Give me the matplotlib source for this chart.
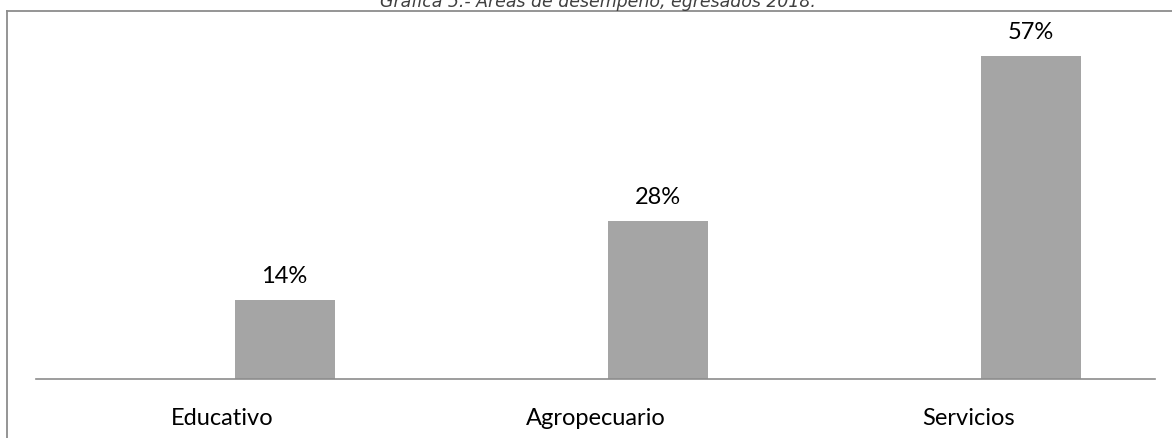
import matplotlib
matplotlib.use("Agg")
import matplotlib.pyplot as plt
from matplotlib.lines import Line2D

categories = ["Educativo", "Agropecuario", "Servicios"]
values = [14, 28, 57]
labels = ["14%", "28%", "57%"]
title = "Gráfica 5.- Áreas de desempeño, egresados 2018."

W, H = 1172, 439
fig = plt.figure(figsize=(W / 100, H / 100), dpi=100)
fig.patch.set_facecolor("white")

ax = fig.add_axes([36 / W, (H - 380) / H, (1155 - 36) / W, (380 - 12) / H])
x = list(range(len(categories)))
bar_shift = 62 / 373  # bars sit right of the category centre (empty second series)
xb = [xi + bar_shift for xi in x]
ax.bar(xb, values, width=100 / 373, color="#A5A5A5", zorder=2)
ax.set_xlim(-0.5, len(categories) - 0.5)
ax.set_ylim(0, (380 - 12) / 5.66)

for xi, v, lab in zip(xb, values, labels):
    ax.annotate(lab, (xi, v), xytext=(0, 10), textcoords="offset points",
                ha="center", va="bottom", fontsize=17, family="Lato", color="#000000")

ax.set_xticks(x)
ax.set_xticklabels(categories, fontsize=17, family="Lato")
ax.tick_params(axis="x", length=0, pad=20)
ax.set_yticks([])
for s in ["top", "right", "left"]:
    ax.spines[s].set_visible(False)
ax.spines["bottom"].set_color("#8C8C8C")
ax.spines["bottom"].set_linewidth(1.2)
ax.patch.set_alpha(0)

# outer frame (left and top visible)
fig.add_artist(Line2D([6.5 / W, 6.5 / W], [0, (H - 11.5) / H], color="#8C8C8C", lw=1.3,
                      transform=fig.transFigure))
fig.add_artist(Line2D([6.5 / W, 1], [(H - 11.5) / H, (H - 11.5) / H], color="#8C8C8C", lw=1.3,
                      transform=fig.transFigure))

fig.text(598 / W, (H - 1) / H, title, ha="center", va="center", fontsize=12.5,
         style="italic", family="DejaVu Sans", color="#404040")

fig.savefig("out.png", dpi=100)
